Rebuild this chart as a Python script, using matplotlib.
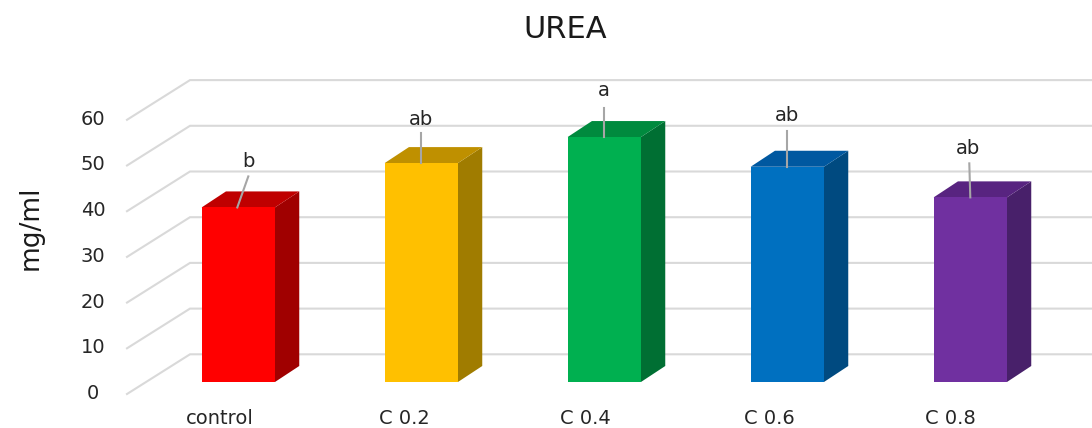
import matplotlib
matplotlib.use('Agg')
import matplotlib.pyplot as plt
from matplotlib.patches import Polygon

categories = ['control', 'C 0.2', 'C 0.4', 'C 0.6', 'C 0.8']
urea = [38.2, 47.9, 53.6, 47.1, 40.4]
letters = ['b', 'ab', 'a', 'ab', 'ab']
y_ticks = [0, 10, 20, 30, 40, 50, 60]

front_colors = ['#FF0000', '#FFC000', '#00B050', '#0070C0', '#7030A0']
top_colors = ['#BF0000', '#BF9000', '#008A3E', '#0058A0', '#582480']
side_colors = ['#A00000', '#A07C00', '#006F33', '#004A80', '#48206A']

# pixel scale of the picture
PX_X = 183.0   # px per category
PX_Y = 4.57    # px per mg/ml
X0 = 238.3     # px of first bar centre
Y0 = 382.0     # px of value 0 at the bar front
W, H = 1092, 428

plt.rcParams['font.family'] = ['DejaVu Sans']
fig = plt.figure(figsize=(W / 100, H / 100), dpi=100)
ax = fig.add_axes([0, 0, 1, 1])
ax.set_xlim(-X0 / PX_X, (W - X0) / PX_X)
ax.set_ylim(-(H - Y0) / PX_Y, Y0 / PX_Y)
ax.axis('off')


def dx(px):
    return px / PX_X


def dy(px):
    return px / PX_Y


text_color = '#262626'

# wall grid lines
wall_left = dx(127 - X0)
wall_back = dx(190 - X0)
wall_right = dx(W - X0)
for v in y_ticks:
    ax.plot([wall_left, wall_back, wall_right], [v - dy(12), v + dy(27.7), v + dy(27.7)],
            color='#D9D9D9', lw=1.5, solid_joinstyle='miter', zorder=1)
    ax.text(dx(93 - X0), v - dy(11.5), str(v), ha='center', va='center', fontsize=14, color=text_color)

# bars
bar_w = 73.3 / PX_X
depth_x = dx(24.3)
depth_y = dy(16)
label_shift = [-18.8, -17, -19, -18, -20]
for i, v in enumerate(urea):
    l, r = i - bar_w / 2, i + bar_w / 2
    ax.add_patch(Polygon([(r, 0), (r + depth_x, depth_y), (r + depth_x, v + depth_y), (r, v)],
                         facecolor=side_colors[i], edgecolor='none', zorder=2))
    ax.add_patch(Polygon([(l, v), (l + depth_x, v + depth_y), (r + depth_x, v + depth_y), (r, v)],
                         facecolor=top_colors[i], edgecolor='none', zorder=2))
    ax.bar(i, v, width=bar_w, color=front_colors[i], zorder=3)
    ax.text(i + dx(label_shift[i]), dy(-37), categories[i], ha='center', va='center', fontsize=14, color=text_color)

# leader lines and letters: start px offset, end px offset, label px offset from the bar top
line_start_x = [-1, 0, 0, 0, 0]
line_end = [(10, 31), (0, 30), (0, 29), (0, 36), (-1, 34)]
label_pos = [(10, 46), (0, 44), (0, 47), (0, 51), (-2, 49)]
for i, v in enumerate(urea):
    ax.plot([i + dx(line_start_x[i]), i + dx(line_end[i][0])], [v, v + dy(line_end[i][1])],
            color='#A6A6A6', lw=1.5, zorder=4)
    ax.text(i + dx(label_pos[i][0]), v + dy(label_pos[i][1]), letters[i], ha='center', va='center',
            fontsize=14, color=text_color, zorder=5)

ax.text(dx(565 - X0), (Y0 - 29) / PX_Y, 'UREA', ha='center', va='center', fontsize=22, color='#1A1A1A')
ax.text(dx(31 - X0), (Y0 - 228) / PX_Y, 'mg/ml', ha='center', va='center', rotation=90, fontsize=19, color='#1A1A1A')

fig.savefig('out.png', dpi=100)
